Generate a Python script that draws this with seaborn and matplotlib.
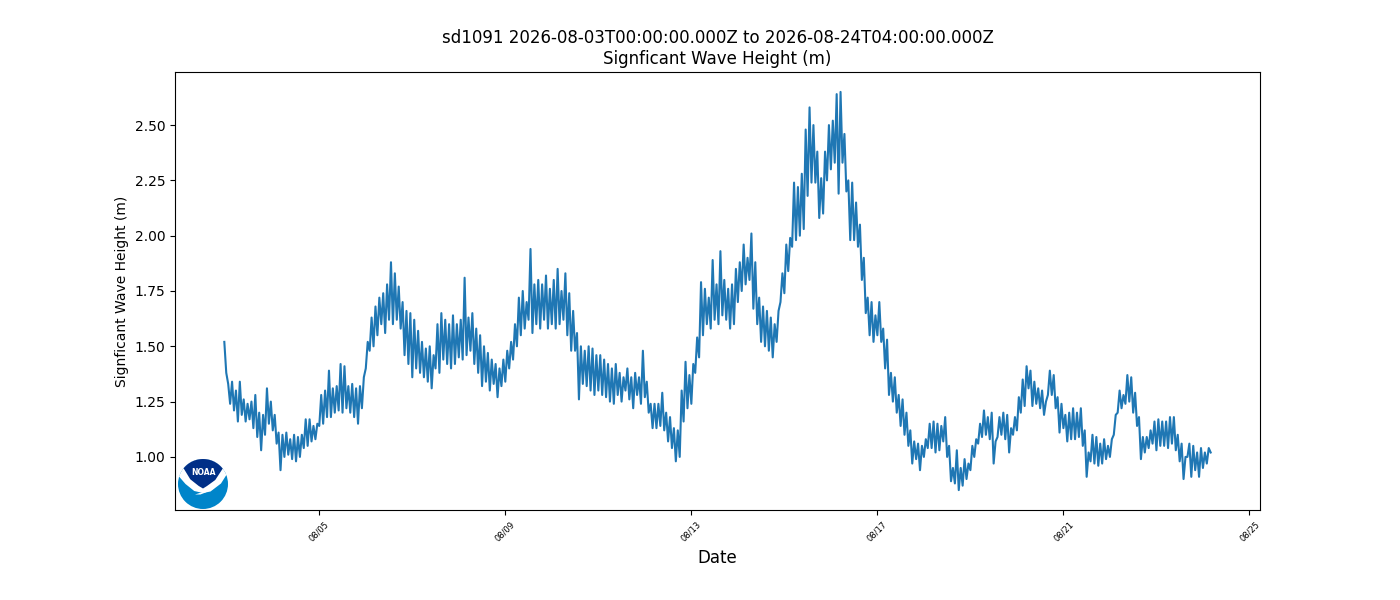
import numpy as np
import pandas as pd

import matplotlib
matplotlib.use("Agg")
import matplotlib.pyplot as plt
import matplotlib.dates as mdates
from matplotlib.patches import Circle, Polygon
import seaborn as sns

# Signos, una lista por dia (un valor por hora)
title_text = "sd1091 2026-08-03T00:00:00.000Z to 2026-08-24T04:00:00.000Z\nSignficant Wave Height (m)"
y_label = "Signficant Wave Height (m)"
x_label = "Date"
tick_dates = ["2026-08-05", "2026-08-09", "2026-08-13", "2026-08-17", "2026-08-21", "2026-08-25"]

h_0803 = [1.52,1.38,1.33,1.24,1.34,1.21,1.30,1.16,1.34,1.19,1.26,1.16,1.24,1.17,1.25,1.13,1.28,1.09,1.20,1.03,1.19,1.10,1.31,1.15,1.25]
h_0804 = [1.12,1.19,1.06,1.11,0.94,1.10,1.00,1.11,1.01,1.08,0.99,1.10,0.98,1.09,1.00,1.10,1.04,1.17,1.05,1.17,1.07,1.14,1.08,1.15]
h_0805 = [1.14,1.28,1.15,1.30,1.18,1.39,1.18,1.31,1.20,1.32,1.21,1.42,1.20,1.41,1.22,1.32,1.20,1.33,1.18,1.31,1.15,1.32,1.22,1.36]
h_0806 = [1.40,1.52,1.48,1.63,1.50,1.68,1.55,1.72,1.60,1.74,1.56,1.78,1.62,1.88,1.60,1.83,1.62,1.77,1.58,1.70,1.46,1.66,1.42,1.65]
h_0807 = [1.36,1.62,1.40,1.57,1.38,1.52,1.36,1.49,1.34,1.50,1.31,1.46,1.40,1.60,1.38,1.65,1.44,1.62,1.42,1.60,1.40,1.64,1.42,1.60]
h_0808 = [1.45,1.62,1.44,1.81,1.46,1.63,1.48,1.65,1.42,1.58,1.38,1.55,1.32,1.50,1.34,1.47,1.30,1.44,1.33,1.42,1.27,1.40,1.32,1.44]
h_0809 = [1.34,1.48,1.40,1.52,1.44,1.60,1.50,1.72,1.55,1.75,1.58,1.70,1.62,1.94,1.56,1.78,1.60,1.80,1.58,1.78,1.62,1.82,1.58,1.76]
h_0810 = [1.60,1.80,1.58,1.85,1.60,1.75,1.62,1.83,1.55,1.74,1.48,1.66,1.48,1.56,1.26,1.50,1.33,1.48,1.32,1.50,1.30,1.49,1.28,1.46]
h_0811 = [1.30,1.46,1.28,1.44,1.27,1.42,1.25,1.40,1.24,1.42,1.28,1.38,1.25,1.36,1.30,1.40,1.26,1.36,1.22,1.38,1.28,1.36,1.24,1.48]
h_0812 = [1.27,1.34,1.20,1.24,1.13,1.24,1.13,1.24,1.14,1.29,1.12,1.20,1.07,1.18,1.04,1.13,0.98,1.12,1.00,1.30,1.16,1.43,1.22,1.37]
h_0813 = [1.24,1.42,1.38,1.54,1.45,1.79,1.55,1.76,1.60,1.72,1.58,1.89,1.62,1.78,1.60,1.93,1.64,1.80,1.62,1.76,1.58,1.78,1.60,1.85]
h_0814 = [1.70,1.88,1.75,1.96,1.78,1.90,1.80,2.01,1.67,1.88,1.60,1.72,1.52,1.68,1.50,1.66,1.48,1.63,1.45,1.60,1.52,1.66,1.70,1.83]
h_0815 = [1.74,1.96,1.84,1.99,1.95,2.24,1.98,2.22,2.00,2.28,2.03,2.48,2.18,2.58,2.24,2.50,2.24,2.38,2.08,2.26,2.10,2.38,2.25,2.50]
h_0816 = [2.30,2.52,2.33,2.64,2.19,2.65,2.33,2.46,2.20,2.25,1.98,2.24,1.98,2.15,1.95,2.05,1.80,1.90,1.65,1.72,1.55,1.70,1.52,1.64]
h_0817 = [1.55,1.70,1.52,1.58,1.40,1.53,1.28,1.38,1.25,1.36,1.20,1.28,1.14,1.26,1.10,1.20,1.05,1.12,0.97,1.07,0.99,1.06,0.94,1.05]
h_0818 = [1.00,1.08,1.04,1.15,1.04,1.16,1.02,1.15,1.03,1.14,1.07,1.18,1.00,1.05,0.89,0.95,0.88,1.03,0.85,0.95,0.87,0.99,0.90,0.97]
h_0819 = [0.94,1.05,1.00,1.08,1.06,1.15,1.09,1.21,1.10,1.18,1.08,1.20,0.97,1.07,1.09,1.18,1.10,1.20,1.08,1.19,1.02,1.13,1.10,1.18]
h_0820 = [1.12,1.27,1.20,1.35,1.23,1.41,1.31,1.39,1.23,1.34,1.24,1.31,1.22,1.30,1.19,1.25,1.28,1.39,1.28,1.37,1.22,1.27,1.11,1.24]
h_0821 = [1.13,1.19,1.07,1.20,1.08,1.22,1.08,1.20,1.09,1.22,1.05,1.12,0.91,1.02,0.98,1.10,0.97,1.09,0.96,1.06,0.97,1.08,0.99,1.05]
h_0822 = [1.00,1.08,1.10,1.19,1.20,1.30,1.22,1.28,1.24,1.37,1.25,1.36,1.20,1.29,1.14,1.18,0.99,1.09,1.02,1.09,1.04,1.12,1.06,1.16]
h_0823 = [1.03,1.17,1.05,1.16,1.05,1.16,1.04,1.18,1.06,1.18,1.03,1.10,0.98,1.06,0.90,1.00,1.00,1.06,0.91,1.05,0.94,1.02,0.91,1.04]
h_0824 = [0.95,1.02,0.97,1.04,1.02]

dias = [
    ("2026-08-02 23:00", h_0803), ("2026-08-04", h_0804), ("2026-08-05", h_0805),
    ("2026-08-06", h_0806), ("2026-08-07", h_0807), ("2026-08-08", h_0808),
    ("2026-08-09", h_0809), ("2026-08-10", h_0810), ("2026-08-11", h_0811),
    ("2026-08-12", h_0812), ("2026-08-13", h_0813), ("2026-08-14", h_0814),
    ("2026-08-15", h_0815), ("2026-08-16", h_0816), ("2026-08-17", h_0817),
    ("2026-08-18", h_0818), ("2026-08-19", h_0819), ("2026-08-20", h_0820),
    ("2026-08-21", h_0821), ("2026-08-22", h_0822), ("2026-08-23", h_0823),
    ("2026-08-24", h_0824),
]

df = pd.concat([
    pd.DataFrame({"time": pd.date_range(inicio, periods=len(v), freq="h"), "hs": v})
    for inicio, v in dias
], ignore_index=True)

fig, ax = plt.subplots(figsize=(14, 6), dpi=100)
fig.subplots_adjust(left=0.125, right=0.9, top=0.88, bottom=0.15)

sns.lineplot(data=df, x="time", y="hs", ax=ax, estimator=None, color="#1f77b4", linewidth=1.5)

ax.set_title(title_text, fontsize=12)
ax.set_ylabel(y_label, fontsize=10)
ax.set_xlabel(x_label, fontsize=12)
ax.set_xticks(pd.to_datetime(tick_dates))
ax.xaxis.set_major_formatter(mdates.DateFormatter("%m/%d"))
ax.tick_params(axis="x", labelsize=6, labelrotation=45)
ax.set_yticks([1.00, 1.25, 1.50, 1.75, 2.00, 2.25, 2.50])
ax.yaxis.set_major_formatter(matplotlib.ticker.FormatStrFormatter("%.2f"))

# Logo NOAA dibujado a mano
logo = fig.add_axes([178 / 1400, 1 - 509 / 600, 50 / 1400, 50 / 600])
logo.set_xlim(-1, 1)
logo.set_ylim(-1, 1)
logo.axis("off")
logo.patch.set_alpha(0)

logo.add_patch(Circle((0, 0), 1, color="#0085ca", lw=0))

ang = np.radians(np.linspace(158, 22, 40))
borde = list(zip(np.cos(ang), np.sin(ang)))
blanco = borde + [(0.96, 0.40), (0.72, 0.02), (0.30, -0.30), (0.0, -0.36), (-0.35, -0.28), (-0.70, 0.0), (-0.96, 0.30)]
logo.add_patch(Polygon(blanco, closed=True, color="white", lw=0))

ang2 = np.radians(np.linspace(141, 38, 30))
cabeza = list(zip(np.cos(ang2), np.sin(ang2)))
cabeza += [(0.49, 0.16), (0.16, -0.08), (0.0, -0.18), (-0.17, -0.08), (-0.51, 0.19)]
logo.add_patch(Polygon(cabeza, closed=True, color="#002f87", lw=0))

logo.add_patch(Polygon([(-0.32, -0.42), (0.46, -0.17), (0.10, -0.34), (-0.10, -0.42)], closed=True, color="white", lw=0))
logo.text(0, 0.47, "NOAA", color="white", fontsize=5.5, fontweight="bold", ha="center", va="center")

fig.savefig("out.png", dpi=100)
